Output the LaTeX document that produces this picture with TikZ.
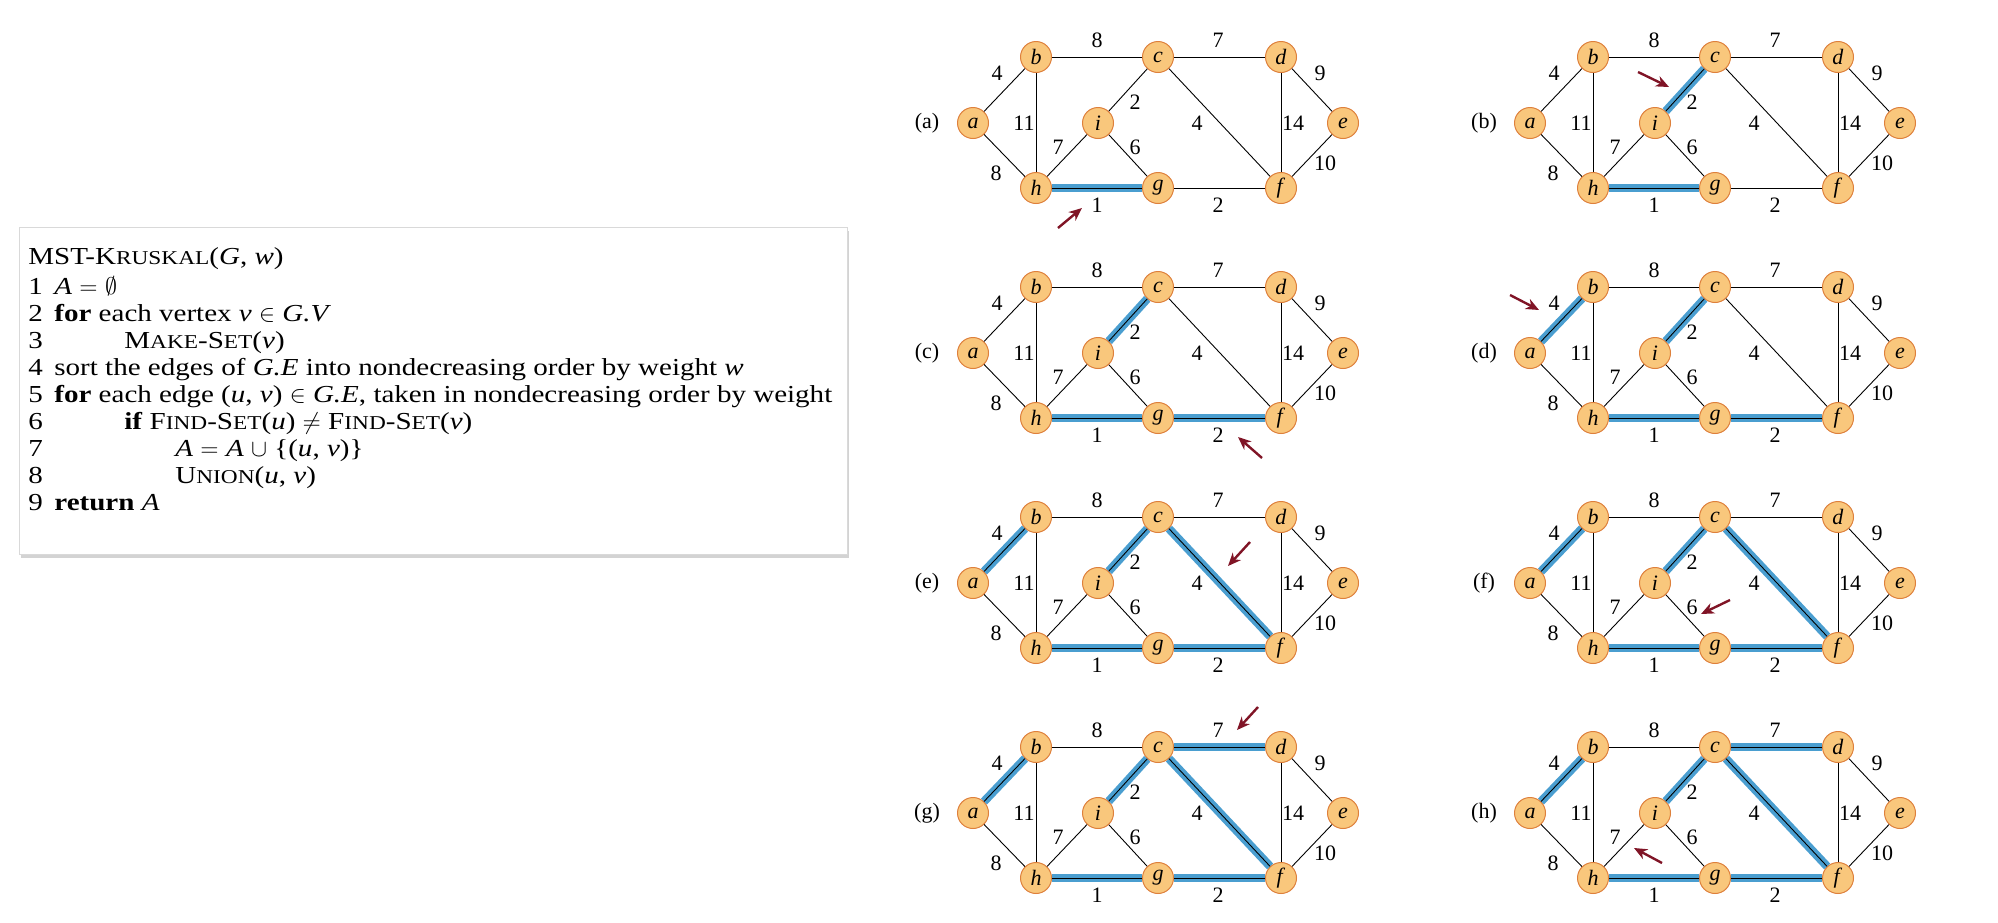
\documentclass[tikz,border=0pt]{standalone}
\usepackage{fontspec}
\setmainfont{Liberation Serif}
\newfontfamily\codefont{Liberation Serif}[FakeStretch=1.19]
\usepackage{tikz}
\usetikzlibrary{positioning,arrows.meta,shadows}

\definecolor{vfill}{RGB}{249,199,124}
\definecolor{vline}{RGB}{222,128,60}
\definecolor{mstblue}{RGB}{74,158,208}
\definecolor{arrowred}{RGB}{128,20,38}

% fake small caps: first letter big, rest smaller
\newcommand{\sck}[2]{#1{\fontsize{9.8}{11}\selectfont #2}}

% one step of the run: origin, tag, tree edges, arrow tail, arrow head
\newcommand{\kpanel}[5]{%
\begin{scope}[shift={#1}, name prefix=#2-]
  % vertices
  \node[vtx] (a) at (0,0) {\textit{a}};
  \node[vtx] (b) at (63,-66) {\textit{b}};
  \node[vtx] (c) at (185,-66) {\textit{c}};
  \node[vtx] (d) at (308,-66) {\textit{d}};
  \node[vtx] (e) at (370,0) {\textit{e}};
  \node[vtx] (i) at (125,0) {\textit{i}};
  \node[vtx] (h) at (63,65) {\textit{h}};
  \node[vtx] (g) at (185,65) {\textit{g}};
  \node[vtx] (f) at (308,65) {\textit{f}};
  \node[wt] (lbl) at (-46,0) {(#2)};
  % tree edges so far
  \foreach \u/\v in {#3} \draw[treeedge] (\u) -- (\v);
  % all edges
  \foreach \u/\v in {a/b,a/h,b/c,b/h,c/d,c/i,c/f,d/e,d/f,e/f,f/g,g/h,g/i,h/i}
    \draw[plain] (\u) -- (\v);
  % weights
  \node[wt] (w-ab) at (24,-50) {4};
  \node[wt] (w-bc) at (124,-83) {8};
  \node[wt] (w-cd) at (245,-83) {7};
  \node[wt] (w-de) at (347,-50) {9};
  \node[wt] (w-bh) at (51,0) {11};
  \node[wt] (w-ci) at (162,-21) {2};
  \node[wt] (w-cf) at (224,0) {4};
  \node[wt] (w-df) at (320,0) {14};
  \node[wt] (w-hi) at (85,24) {7};
  \node[wt] (w-gi) at (162,24) {6};
  \node[wt] (w-ah) at (23,50) {8};
  \node[wt] (w-ef) at (352,40) {10};
  \node[wt] (w-gh) at (124,82) {1};
  \node[wt] (w-fg) at (245,82) {2};
  % edge looked at in this step
  \coordinate (tail) at #4;
  \coordinate (head) at #5;
  \draw[pick] (tail) -- (head);
\end{scope}}

\begin{document}
\begin{tikzpicture}[x=0.5pt, y=-0.5pt,
  vtx/.style={circle, draw=vline, fill=vfill, line width=0.5pt, minimum size=15.5pt,
    inner sep=0pt, font=\fontsize{11}{12}\selectfont},
  plain/.style={black, line width=0.45pt},
  treeedge/.style={mstblue, line width=4.2pt},
  wt/.style={inner sep=0pt, font=\fontsize{11}{12}\selectfont},
  pick/.style={arrowred, line width=1.2pt, -{Stealth[length=6.5pt,width=5.5pt,inset=2pt]}},
  code/.style={inner sep=0pt, anchor=base west, font=\codefont\fontsize{12.2}{13}\selectfont},
  algbox/.style={draw=black!15, fill=white, line width=0.4pt,
    drop shadow={shadow xshift=1pt, shadow yshift=-2pt, opacity=0.35}}]
\useasboundingbox (0,0) rectangle (1998,922);

% Pseudocode box
\draw[algbox] (19,227) rectangle (847,554);
\node[code] (title) at (28,264) {MST-\sck{K}{RUSKAL}(\textit{G}, \textit{w})};
\foreach \k in {1,...,9}
  \node[code] (n\k) at (28,{294+27.1*(\k-1)}) {\k};
\node[code] (l1) at (54,294) {\textit{A} $=$ $\emptyset$};
\node[code] (l2) at (54,321.1) {\textbf{for} each vertex \textit{v} $\in$ \textit{G.V}};
\node[code] (l3) at (124,348.2) {\sck{M}{AKE}-\sck{S}{ET}(\textit{v})};
\node[code] (l4) at (54,375.3) {sort the edges of \textit{G.E} into nondecreasing order by weight \textit{w}};
\node[code] (l5) at (54,402.4) {\textbf{for} each edge (\textit{u}, \textit{v}) $\in$ \textit{G.E}, taken in nondecreasing order by weight};
\node[code] (l6) at (124,429.5) {\textbf{if} \sck{F}{IND}-\sck{S}{ET}(\textit{u}) $\neq$ \sck{F}{IND}-\sck{S}{ET}(\textit{v})};
\node[code] (l7) at (175,456.6) {\textit{A} $=$ \textit{A} $\cup$ \{(\textit{u}, \textit{v})\}};
\node[code] (l8) at (175,483.7) {\sck{U}{NION}(\textit{u}, \textit{v})};
\node[code] (l9) at (54,510.8) {\textbf{return} \textit{A}};

% Steps (a)-(h)
\kpanel{(973,123)}{a}{g/h}{(85,105)}{(109,85)}
\kpanel{(1530,123)}{b}{g/h,i/c}{(108,-51)}{(139,-36)}
\kpanel{(973,353)}{c}{g/h,i/c,g/f}{(289,105)}{(265,84)}
\kpanel{(1530,353)}{d}{g/h,i/c,g/f,a/b}{(-20,-58)}{(9,-43)}
\kpanel{(973,583)}{e}{g/h,i/c,g/f,a/b,c/f}{(277,-41)}{(255,-17)}
\kpanel{(1530,583)}{f}{g/h,i/c,g/f,a/b,c/f}{(200,17)}{(171,31)}
\kpanel{(973,813)}{g}{g/h,i/c,g/f,a/b,c/f,c/d}{(285,-106)}{(264,-83)}
\kpanel{(1530,813)}{h}{g/h,i/c,g/f,a/b,c/f,c/d}{(132,50)}{(104,35)}

\end{tikzpicture}
\end{document}
